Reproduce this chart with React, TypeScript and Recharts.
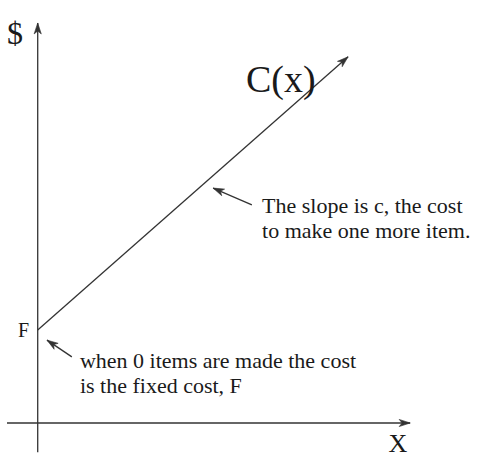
import { LineChart, Line, XAxis, YAxis, ReferenceLine, ReferenceDot } from "recharts";

// cost line C(x) = F + c*x (F = 3, c ≈ 0.88)
const costX = [0, 10];
const costY = [3, 11.8];
const FIXED_COST = 3;

const noteSlope = ["The slope is c, the cost", "to make one more item."];
const noteFixed = ["when 0 items are made the cost", "is the fixed cost, F"];

// layout (data units)
const X_DOMAIN: [number, number] = [-1.215, 14.25];
const Y_DOMAIN: [number, number] = [-1.128, 13.63];

const INK = "#333";
const FONT = "'Liberation Serif', 'Times New Roman', serif";

const data = costX.map((x, i) => ({ x, cost: costY[i] }));

const headPath = (x1: number, y1: number, x2: number, y2: number) => {
  const a = Math.atan2(y2 - y1, x2 - x1);
  const len = 11, w = 3.6, notch = 8;
  const pt = (d: number, s: number) =>
    `${x2 - d * Math.cos(a) - s * Math.sin(a)},${y2 - d * Math.sin(a) + s * Math.cos(a)}`;
  return `M${x2},${y2} L${pt(len, w)} L${pt(notch, 0)} L${pt(len, -w)} Z`;
};

const Arrow = (p: any) => (
  <g>
    <line x1={p.x1} y1={p.y1} x2={p.x2} y2={p.y2} stroke={INK} strokeWidth={1.3} />
    <path d={headPath(p.x1, p.y1, p.x2, p.y2)} fill={INK} stroke={INK} strokeWidth={0.6} />
  </g>
);

const Note = (lines: string[], size: number, gap = 25) => (p: any) => (
  <text x={p.cx} y={p.cy} fontFamily={FONT} fontSize={size} fill="#1a1a1a">
    {lines.map((l, i) => (
      <tspan key={i} x={p.cx} dy={i === 0 ? 0 : gap}>{l}</tspan>
    ))}
  </text>
);

export default function App() {
  let prev: { x: number; y: number } | null = null;
  const endArrow = (p: any) => {
    const { cx, cy, index } = p;
    if (index === 0 || !prev) {
      prev = { x: cx, y: cy };
      return <g key={`d${index}`} />;
    }
    return <path key={`d${index}`} d={headPath(prev.x, prev.y, cx, cy)} fill={INK} stroke={INK} strokeWidth={0.6} />;
  };

  return (
    <div style={{ position: "absolute", left: 0, top: 0, background: "#fff" }}>
      <LineChart width={480} height={458} data={data} margin={{ top: 0, right: 0, bottom: 0, left: 0 }}>
        <XAxis dataKey="x" type="number" domain={X_DOMAIN} allowDataOverflow hide />
        <YAxis type="number" domain={Y_DOMAIN} allowDataOverflow hide />

        {/* axes */}
        <ReferenceLine segment={[{ x: -0.99, y: 0 }, { x: 12.0, y: 0 }]} ifOverflow="visible" shape={Arrow} />
        <ReferenceLine segment={[{ x: 0, y: -0.94 }, { x: 0, y: 12.89 }]} ifOverflow="visible" shape={Arrow} />

        <Line
          dataKey="cost"
          stroke={INK}
          strokeWidth={1.3}
          dot={endArrow}
          activeDot={false}
          isAnimationActive={false}
        />

        {/* annotation arrows */}
        <ReferenceLine segment={[{ x: 6.9, y: 7.03 }, { x: 5.65, y: 7.57 }]} ifOverflow="visible" shape={Arrow} />
        <ReferenceLine segment={[{ x: 1.1, y: 2.13 }, { x: 0.3, y: 2.67 }]} ifOverflow="visible" shape={Arrow} />

        {/* labels */}
        <ReferenceDot x={-0.99} y={12.2} r={0} ifOverflow="visible" shape={Note(["$"], 32)} />
        <ReferenceDot x={6.71} y={10.67} r={0} ifOverflow="visible" shape={Note(["C(x)"], 38)} />
        <ReferenceDot x={-0.635} y={FIXED_COST - 0.23} r={0} ifOverflow="visible" shape={Note(["F"], 20)} />
        <ReferenceDot x={11.3} y={-0.93} r={0} ifOverflow="visible" shape={Note(["X"], 26)} />
        <ReferenceDot x={7.23} y={6.77} r={0} ifOverflow="visible" shape={Note(noteSlope, 22)} />
        <ReferenceDot x={1.36} y={1.77} r={0} ifOverflow="visible" shape={Note(noteFixed, 22)} />
      </LineChart>
    </div>
  );
}
